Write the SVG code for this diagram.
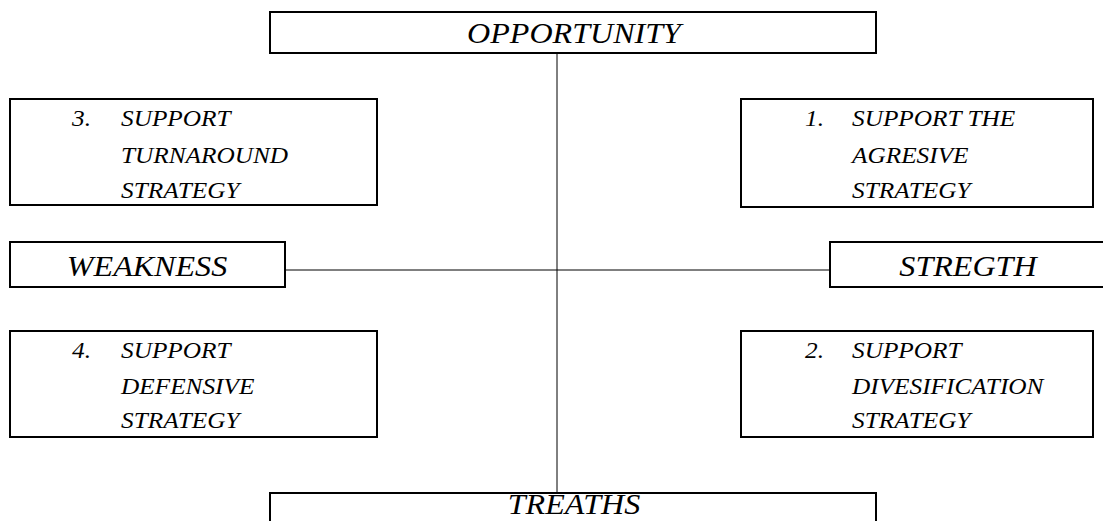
<svg xmlns="http://www.w3.org/2000/svg" width="1103" height="521" viewBox="0 0 1103 521">
<style>
.box{fill:#fff;stroke:#000;stroke-width:2}
.t{font-family:"Liberation Serif","Times New Roman",serif;font-style:italic;fill:#000}
.big{font-size:30px}
.sm{font-size:23px}
.ln{stroke:#000;stroke-width:1;fill:none}
</style>
<rect width="1103" height="521" fill="#fff"/>
<g id="connectors">
<line class="ln" x1="557" y1="53" x2="557" y2="493"/>
<line class="ln" x1="285" y1="270" x2="830" y2="270" stroke="#333" stroke-width="1.6"/>
</g>
<g id="opportunity">
<rect class="box" x="270" y="12" width="606" height="41"/>
<text class="t big" transform="translate(574,43) scale(1.07,1)" text-anchor="middle">OPPORTUNITY</text>
</g>
<g id="q3">
<rect class="box" x="10" y="99" width="367" height="106"/>
<text class="t sm" transform="translate(72,126) scale(1.1,1)">3.</text>
<text class="t sm" transform="translate(121,126) scale(1.1,1)">SUPPORT</text>
<text class="t sm" transform="translate(121,163) scale(1.1,1)">TURNAROUND</text>
<text class="t sm" transform="translate(121,198) scale(1.1,1)">STRATEGY</text>
</g>
<g id="q1">
<rect class="box" x="741" y="99" width="352" height="108"/>
<text class="t sm" transform="translate(805,126) scale(1.1,1)">1.</text>
<text class="t sm" transform="translate(852,126) scale(1.1,1)">SUPPORT THE</text>
<text class="t sm" transform="translate(852,163) scale(1.1,1)">AGRESIVE</text>
<text class="t sm" transform="translate(852,198) scale(1.1,1)">STRATEGY</text>
</g>
<g id="weakness">
<rect class="box" x="10" y="242" width="275" height="45"/>
<text class="t big" transform="translate(147,276) scale(1.07,1)" text-anchor="middle">WEAKNESS</text>
</g>
<g id="stregth">
<rect class="box" x="830" y="242" width="275" height="45"/>
<text class="t big" transform="translate(968,276) scale(1.07,1)" text-anchor="middle">STREGTH</text>
</g>
<g id="q4">
<rect class="box" x="10" y="331" width="367" height="106"/>
<text class="t sm" transform="translate(72,358) scale(1.1,1)">4.</text>
<text class="t sm" transform="translate(121,358) scale(1.1,1)">SUPPORT</text>
<text class="t sm" transform="translate(121,394) scale(1.1,1)">DEFENSIVE</text>
<text class="t sm" transform="translate(121,428) scale(1.1,1)">STRATEGY</text>
</g>
<g id="q2">
<rect class="box" x="741" y="331" width="352" height="106"/>
<text class="t sm" transform="translate(805,358) scale(1.1,1)">2.</text>
<text class="t sm" transform="translate(852,358) scale(1.1,1)">SUPPORT</text>
<text class="t sm" transform="translate(852,394) scale(1.1,1)">DIVESIFICATION</text>
<text class="t sm" transform="translate(852,428) scale(1.1,1)">STRATEGY</text>
</g>
<g id="treaths">
<rect class="box" x="270" y="493" width="606" height="40"/>
<text class="t big" transform="translate(574,514) scale(1.07,1)" text-anchor="middle">TREATHS</text>
</g>
</svg>
